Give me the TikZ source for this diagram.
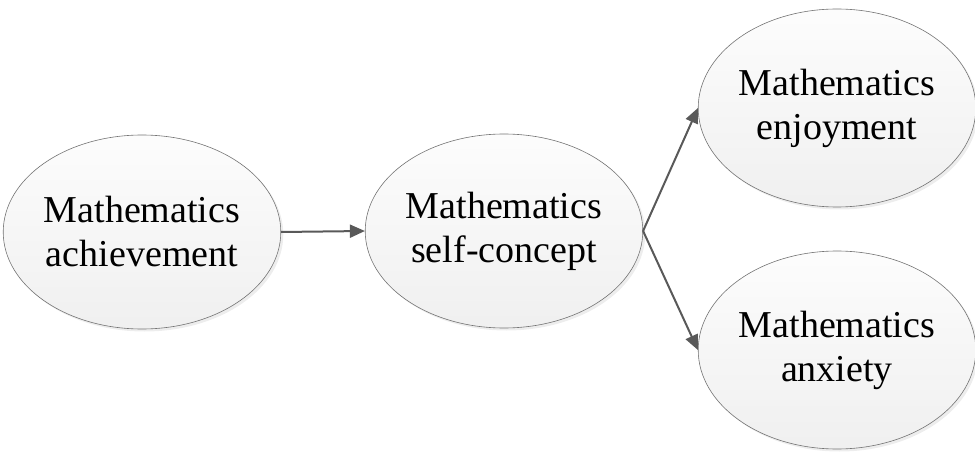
\documentclass[tikz,border=0pt]{standalone}
\usepackage{fontspec}
\setmainfont{Liberation Serif}
\usetikzlibrary{shapes.geometric,arrows.meta,shadows}
\begin{document}
\begin{tikzpicture}[x=1pt,y=-1pt,
  construct/.style={ellipse, draw=black!55, line width=0.6pt, inner sep=0pt,
    minimum width=274pt, minimum height=194pt,
    top color=black!1, bottom color=black!6,
    drop shadow={shadow xshift=2.5pt, shadow yshift=-2.5pt, fill=black!10, opacity=0.7},
    align=center, font=\fontsize{38}{44}\selectfont},
  path/.style={draw=black!65, line width=2pt,
    -{Triangle[length=15pt,width=13pt]}}]
\useasboundingbox (0,0) rectangle (975,457);
\node[construct] (ach) at (142,232) {Mathematics\\achievement};
\node[construct] (sc) at (504,231) {Mathematics\\self-concept};
\node[construct, minimum width=266pt, minimum height=198pt] (enj) at (837,108) {Mathematics\\enjoyment};
\node[construct, minimum width=266pt, minimum height=198pt] (anx) at (837,350) {Mathematics\\anxiety};
\draw[path] (ach.east) -- (sc.west);
\draw[path] (sc.east) -- (enj.west);
\draw[path] (sc.east) -- (anx.west);
\end{tikzpicture}
\end{document}
